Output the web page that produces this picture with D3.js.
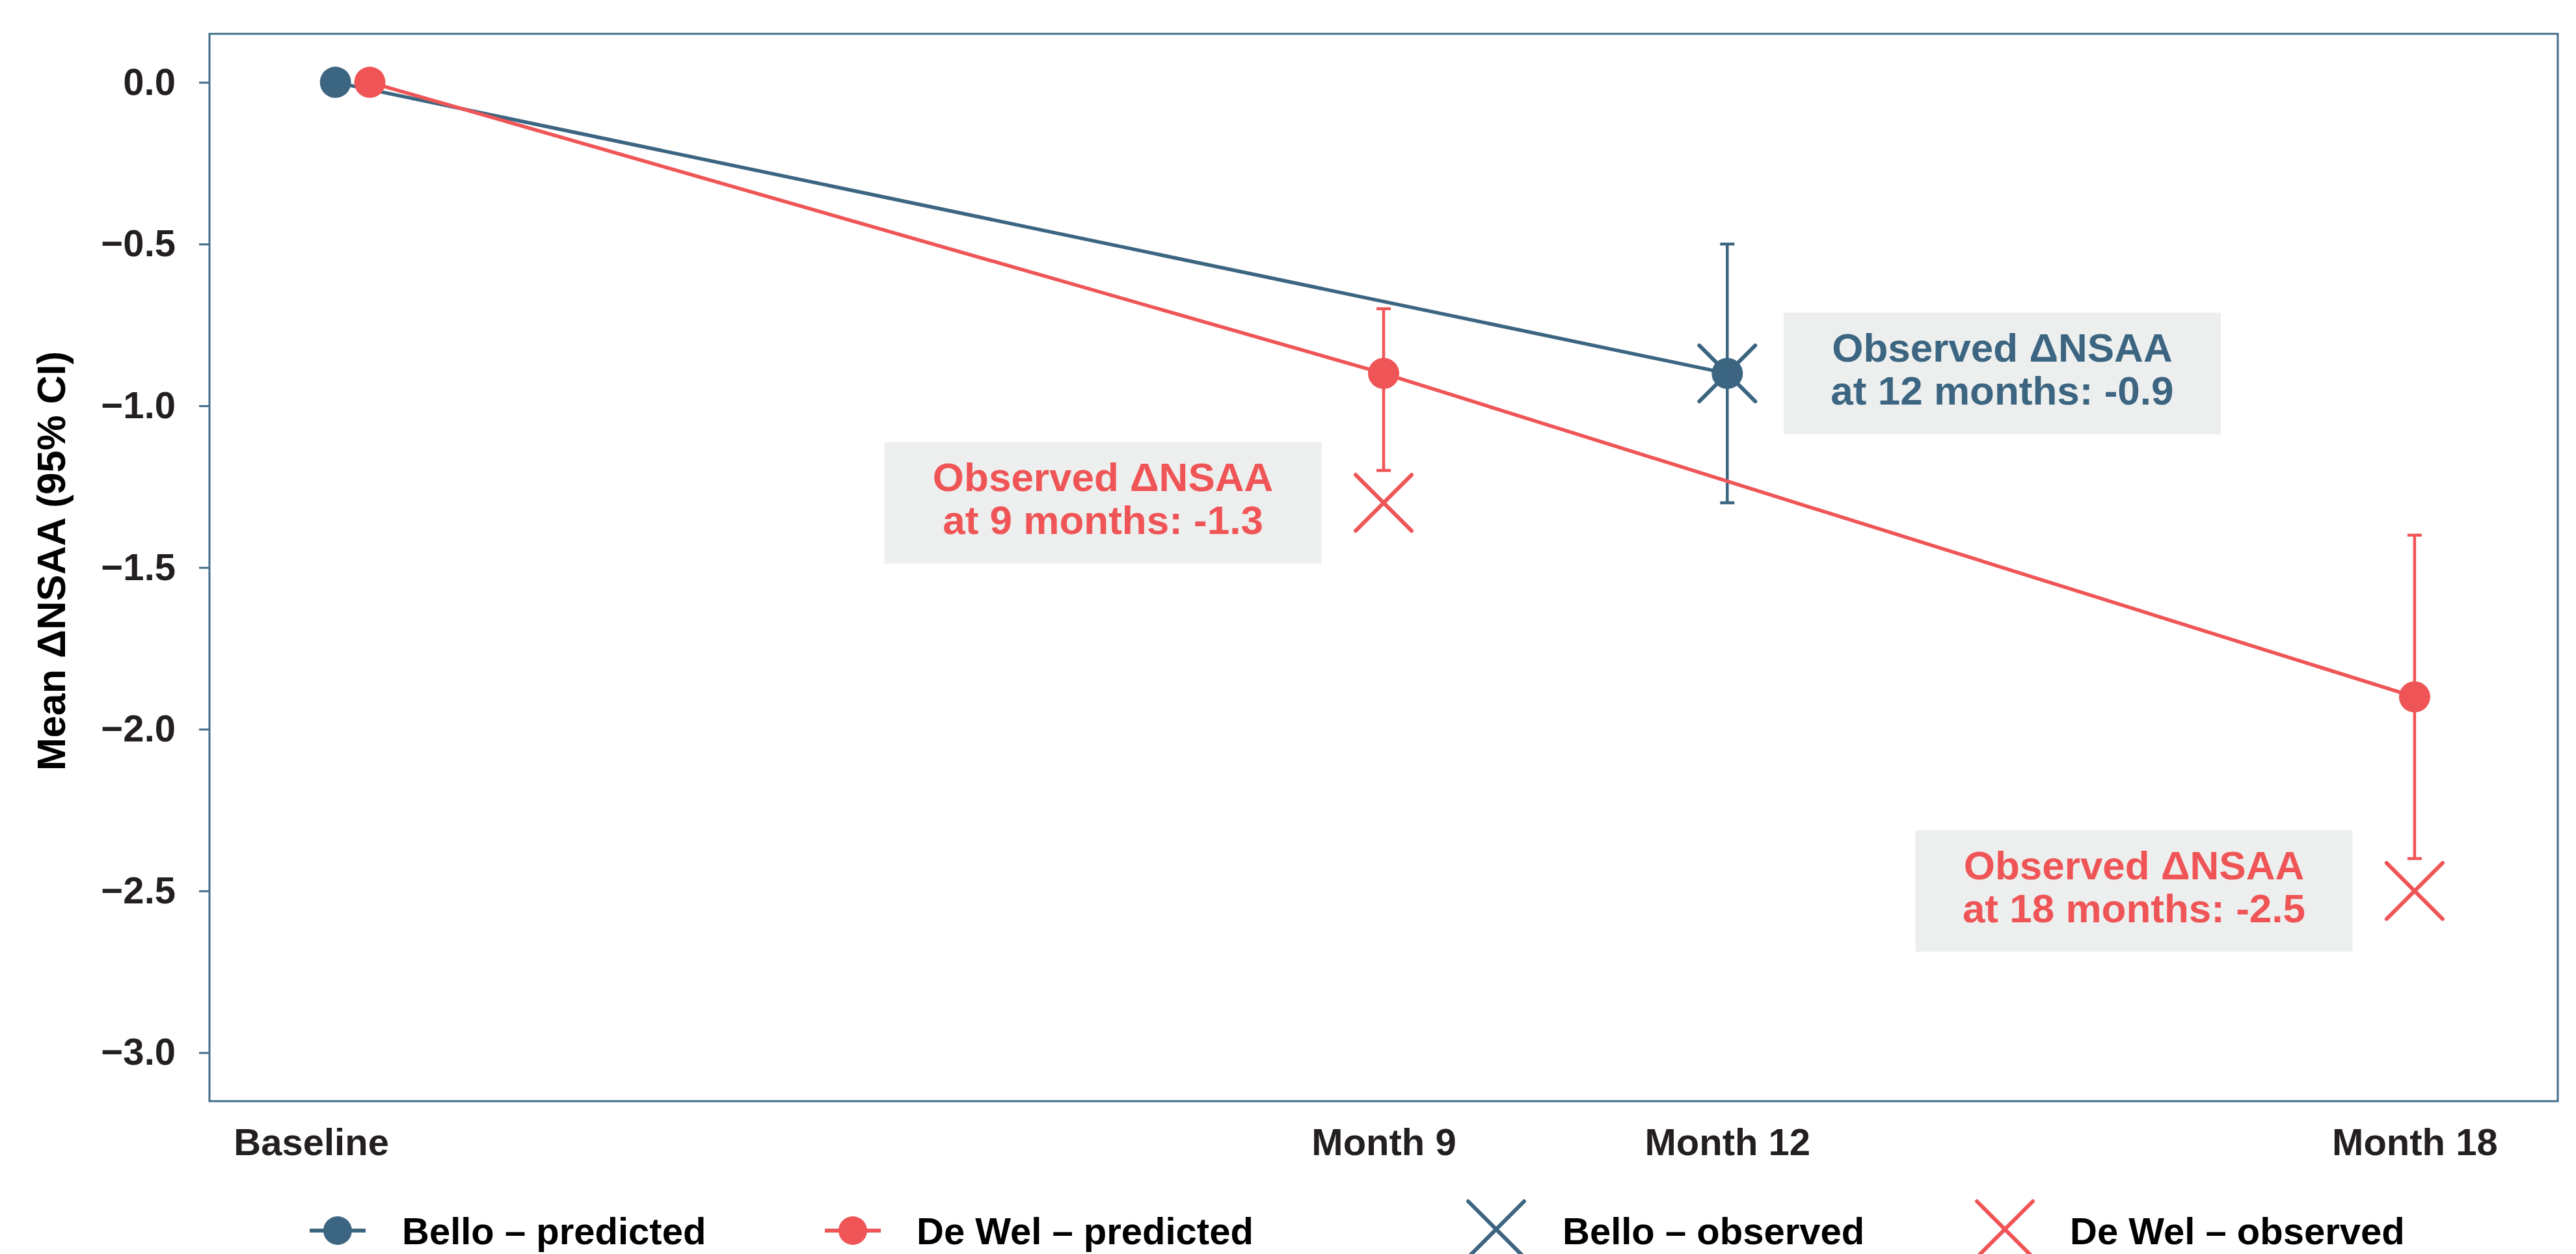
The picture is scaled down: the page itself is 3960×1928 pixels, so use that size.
<!DOCTYPE html>
<html>
<head>
<meta charset="utf-8">
<script src="https://cdn.jsdelivr.net/npm/d3@7"></script>
<style>
  body { margin: 0; background: #fff; }
  text { font-family: "Liberation Sans", Arial, sans-serif; font-weight: bold; }
</style>
</head>
<body>
<div id="chart"></div>
<script>
// months since baseline and mean change in NSAA
const tickMonths = [0, 9, 12, 18];
const tickLabels = ["Baseline", "Month 9", "Month 12", "Month 18"];
const yTicks = [0, -0.5, -1, -1.5, -2, -2.5, -3];

const belloMonths = [0, 12];
const belloPred = [0, -0.9];
const belloLow = [null, -1.3];
const belloHigh = [null, -0.5];
const belloObsMonths = [12];
const belloObs = [-0.9];

const dewelMonths = [0, 9, 18];
const dewelPred = [0, -0.9, -1.9];
const dewelLow = [null, -1.2, -2.4];
const dewelHigh = [null, -0.7, -1.4];
const dewelObsMonths = [9, 18];
const dewelObs = [-1.3, -2.5];

const legendLabels = ["Bello – predicted", "De Wel – predicted", "Bello – observed", "De Wel – observed"];

const blue = "#3c6581",
  red = "#ef5556",
  frame = "#416d89",
  boxFill = "#edefee",
  ink = "#231f20";

let margin = { top: 52, left: 322, right: 28, bottom: 235 },
  W = 3960, H = 1928,
  width = W - margin.left - margin.right,
  height = H - margin.top - margin.bottom;

let series = [
  { color: blue, dodge: -0.15, months: belloMonths, pred: belloPred, low: belloLow, high: belloHigh,
    obsMonths: belloObsMonths, obs: belloObs, labelShift: 2.4 },
  { color: red, dodge: 0.15, months: dewelMonths, pred: dewelPred, low: dewelLow, high: dewelHigh,
    obsMonths: dewelObsMonths, obs: dewelObs, labelShift: -2.45 }
];
const shared = belloMonths.filter(m => dewelMonths.includes(m));

let svg = d3.select("#chart")
  .append("svg")
    .attr("width", W)
    .attr("height", H);

let g = svg.append("g")
  .attr("transform", "translate(" + margin.left + "," + margin.top + ")");

let x = d3.scaleLinear().domain([-1.25, 19.25]).range([0, width]);
let y = d3.scaleLinear().domain([0.15, -3.15]).range([0, height]);

function xPos(s, m) {
  return x(m + (shared.includes(m) ? s.dodge : 0));
}

// axes
let yAxis = g.append("g")
  .call(d3.axisLeft(y).tickValues(yTicks).tickSize(16).tickPadding(36).tickFormat(d3.format(".1f")));
yAxis.select(".domain").remove();
yAxis.selectAll(".tick line").attr("stroke", frame).attr("stroke-width", 3);
yAxis.selectAll(".tick text")
  .style("font-size", "58px")
  .attr("fill", ink);

let xAxis = g.append("g")
  .attr("transform", "translate(0," + height + ")")
  .call(d3.axisBottom(x).tickValues(tickMonths).tickSize(0).tickPadding(42).tickFormat((d, i) => tickLabels[i]));
xAxis.select(".domain").remove();
xAxis.selectAll(".tick text")
  .style("font-size", "58px")
  .attr("fill", ink)
  .attr("dx", d => d === 0 ? -64 : 0);

svg.append("text")
  .attr("transform", "translate(100," + (margin.top + height / 2 - 10) + ") rotate(-90)")
  .attr("text-anchor", "middle")
  .style("font-size", "61px")
  .attr("fill", "#000")
  .text("Mean ΔNSAA (95% CI)");

g.append("rect")
  .attr("width", width)
  .attr("height", height)
  .attr("fill", "none")
  .attr("stroke", frame)
  .attr("stroke-width", 3);

function cross(sel, r) {
  sel.append("path")
    .attr("d", "M" + (-r) + "," + (-r) + "L" + r + "," + r + "M" + r + "," + (-r) + "L" + (-r) + "," + r);
}

series.forEach(s => {
  let pts = s.months.map((m, i) => ({ m: m, v: s.pred[i], lo: s.low[i], hi: s.high[i] }));

  // error bars
  let eb = g.append("g").attr("stroke", s.color).attr("stroke-width", 4.5);
  pts.filter(d => d.lo !== null).forEach(d => {
    let cx = xPos(s, d.m);
    eb.append("line").attr("x1", cx).attr("x2", cx).attr("y1", y(d.hi)).attr("y2", y(d.lo));
    eb.append("line").attr("x1", cx - 11).attr("x2", cx + 11).attr("y1", y(d.hi)).attr("y2", y(d.hi));
    eb.append("line").attr("x1", cx - 11).attr("x2", cx + 11).attr("y1", y(d.lo)).attr("y2", y(d.lo));
  });

  g.append("path")
    .datum(pts)
    .attr("fill", "none")
    .attr("stroke", s.color)
    .attr("stroke-width", 5.5)
    .attr("d", d3.line().x(d => xPos(s, d.m)).y(d => y(d.v)));

  g.selectAll(null)
    .data(pts)
    .enter().append("circle")
    .attr("cx", d => xPos(s, d.m))
    .attr("cy", d => y(d.v))
    .attr("r", 24)
    .attr("fill", s.color);

  s.obsMonths.forEach((m, i) => {
    let mk = g.append("g")
      .attr("transform", "translate(" + x(m) + "," + y(s.obs[i]) + ")")
      .attr("stroke", s.color)
      .attr("stroke-width", 6)
      .attr("stroke-linecap", "round")
      .attr("fill", "none");
    cross(mk, 43);

    let lab = g.append("g")
      .attr("transform", "translate(" + x(m + s.labelShift) + "," + y(s.obs[i]) + ")");
    lab.append("rect")
      .attr("x", -336).attr("y", -93.5)
      .attr("width", 672).attr("height", 187)
      .attr("fill", boxFill);
    lab.append("text")
      .attr("text-anchor", "middle")
      .attr("y", -18)
      .style("font-size", "62px")
      .attr("fill", s.color)
      .text("Observed ΔNSAA");
    lab.append("text")
      .attr("text-anchor", "middle")
      .attr("y", 48)
      .style("font-size", "62px")
      .attr("fill", s.color)
      .text("at " + m + " months: " + s.obs[i].toFixed(1));
  });
});

// legend
let legendItems = [
  { key: "pred", color: blue, cx: 519, tx: 618 },
  { key: "pred", color: red, cx: 1311, tx: 1409 },
  { key: "obs", color: blue, cx: 2300, tx: 2402 },
  { key: "obs", color: red, cx: 3082, tx: 3182 }
];
let legend = svg.append("g").attr("transform", "translate(0,1892)");
legendItems.forEach((d, i) => {
  let k = legend.append("g").attr("transform", "translate(" + d.cx + ",0)");
  if (d.key === "pred") {
    k.append("line").attr("x1", -43).attr("x2", 43)
      .attr("stroke", d.color).attr("stroke-width", 6);
    k.append("circle").attr("r", 22).attr("fill", d.color);
  } else {
    let c = k.append("g").attr("transform", "translate(0,-2)")
      .attr("stroke", d.color).attr("stroke-width", 6)
      .attr("stroke-linecap", "round").attr("fill", "none");
    cross(c, 43);
  }
  legend.append("text")
    .attr("x", d.tx)
    .attr("y", 21)
    .style("font-size", "58px")
    .attr("fill", "#000")
    .text(legendLabels[i]);
});
</script>
</body>
</html>
